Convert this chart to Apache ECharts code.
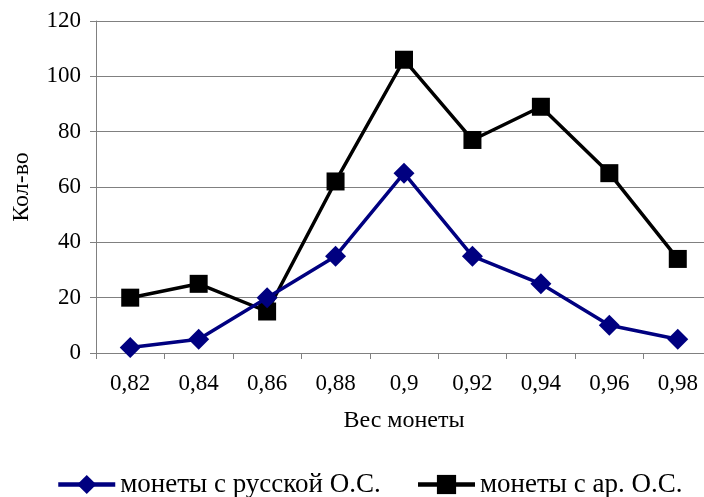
<!DOCTYPE html>
<html>
<head>
<meta charset="utf-8">
<style>
  html, body { margin: 0; padding: 0; background: #ffffff; overflow: hidden; }
  /* the canvas is a little wider than the window so the last column runs off the edge */
  #chart { width: 712px; height: 497px; }
</style>
<script src="https://cdn.jsdelivr.net/npm/echarts@6/dist/echarts.min.js"></script>
</head>
<body>
<div id="chart"></div>
<script>
// Coin weight classes and counts per class
const weights = ['0,82', '0,84', '0,86', '0,88', '0,9', '0,92', '0,94', '0,96', '0,98'];
const russianCoins = [2, 5, 20, 35, 65, 35, 25, 10, 5];
const arabCoins = [20, 25, 15, 62, 106, 77, 89, 65, 34];
const yTicks = { min: 0, max: 120, interval: 20 };

const serif = '"Liberation Serif", "Times New Roman", serif';
const chart = echarts.init(document.getElementById('chart'));

chart.setOption({
  animation: false,
  textStyle: { fontFamily: serif, color: '#000' },
  grid: { left: 96, right: 0, top: 21, height: 332, containLabel: false },
  legend: {
    top: 466,
    left: 51,
    itemWidth: 57,
    itemHeight: 24,
    itemGap: 35,
    lineStyle: { width: 4.5 },
    textStyle: { fontFamily: serif, fontSize: 27, color: '#000' },
    data: ['монеты с русской О.С.', 'монеты с ар. О.С.']
  },
  xAxis: {
    type: 'category',
    data: weights,
    boundaryGap: true,
    name: 'Вес монеты',
    nameLocation: 'middle',
    nameGap: 56,
    nameTextStyle: { fontFamily: serif, fontSize: 24, color: '#000' },
    axisLine: { lineStyle: { color: '#808080', width: 1 } },
    axisTick: { show: true, length: 6, lineStyle: { color: '#808080' } },
    axisLabel: { fontFamily: serif, fontSize: 23, color: '#000', margin: 19 }
  },
  yAxis: {
    type: 'value',
    min: yTicks.min,
    max: yTicks.max,
    interval: yTicks.interval,
    name: 'Кол-во',
    nameLocation: 'middle',
    nameGap: 62,
    nameRotate: 90,
    nameTextStyle: { fontFamily: serif, fontSize: 24, color: '#000' },
    axisLine: { show: true, lineStyle: { color: '#808080', width: 1 } },
    axisTick: { show: true, length: 6, lineStyle: { color: '#808080' } },
    axisLabel: { fontFamily: serif, fontSize: 23, color: '#000', margin: 15 },
    splitLine: { show: true, lineStyle: { color: '#808080', width: 1 } }
  },
  series: [
    {
      name: 'монеты с русской О.С.',
      type: 'line',
      data: russianCoins,
      symbol: 'diamond',
      symbolSize: 21,
      lineStyle: { color: '#000080', width: 3.5 },
      itemStyle: { color: '#000080' },
      z: 3
    },
    {
      name: 'монеты с ар. О.С.',
      type: 'line',
      data: arabCoins,
      symbol: 'rect',
      symbolSize: 18,
      lineStyle: { color: '#000000', width: 3.5 },
      itemStyle: { color: '#000000' },
      z: 2
    }
  ]
});
</script>
</body>
</html>
